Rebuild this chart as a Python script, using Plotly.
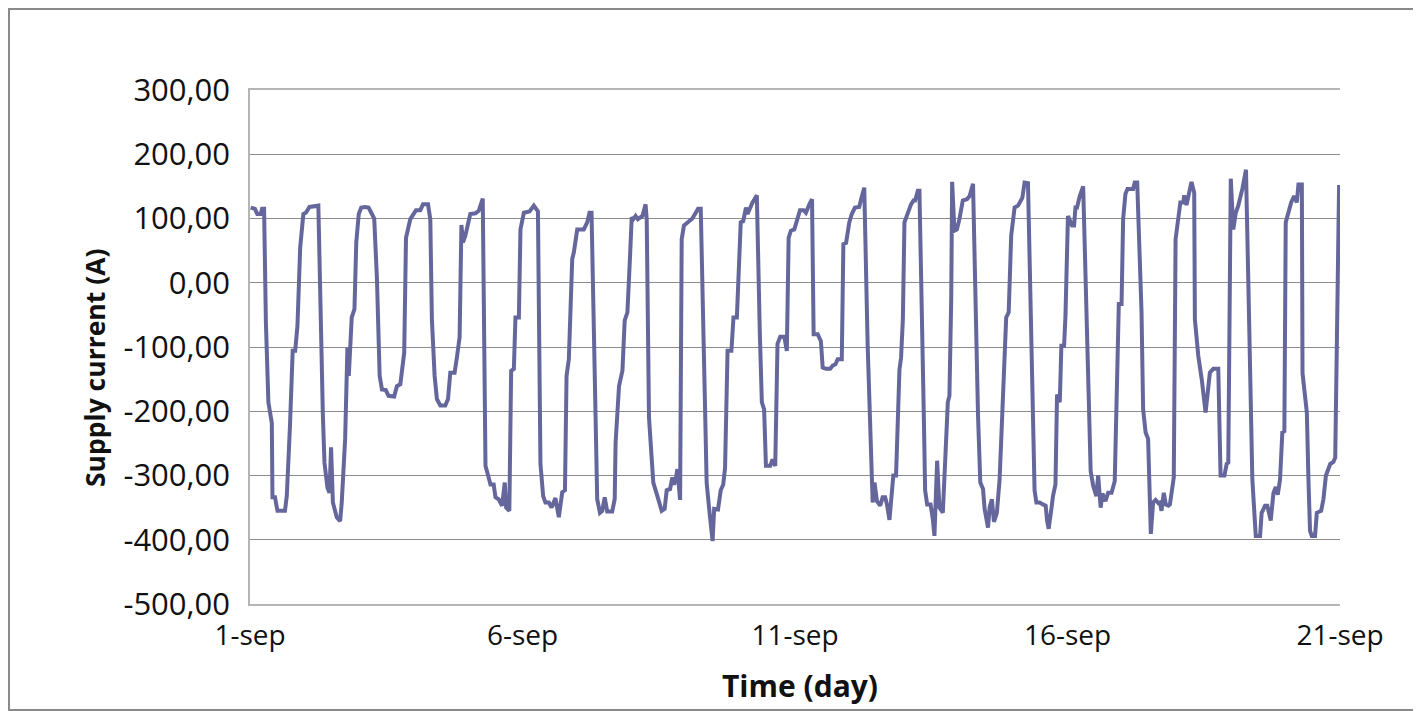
import pandas as pd
import plotly.graph_objects as go

# Hours since 1-sep 00:00 and supply current (A)
hours = [
    0.3, 2.2, 3.2, 4.7, 5.3, 6.2, 7.0, 8.1, 9.6, 9.9, 11.0, 12.1, 15.4, 16.2, 17.6, 18.8, 19.9, 20.9, 22.1, 23.5,
    24.6, 26.2, 30.1, 31.3, 32.1, 32.8, 34.1, 35.0, 35.7, 36.5, 37.2, 38.2, 39.7, 40.4, 41.9, 42.9, 43.5, 44.8,
    46.0, 46.8, 47.9, 49.0, 50.7, 52.2, 53.4, 54.7, 55.9, 57.1, 58.1, 59.8, 61.0, 63.5, 64.7, 66.2, 67.9, 68.7,
    70.6, 71.6, 73.1, 75.0, 76.2, 78.4, 79.4, 80.1, 81.3, 82.3, 83.8, 86.0, 87.2, 88.2, 90.1, 91.2, 92.3, 93.1,
    93.8, 94.8, 97.0,
    99.3, 100.7, 102.5, 103.7, 105.1, 105.9, 107.3, 108.1, 109.5, 111.0, 112.2, 112.8, 114.2, 115.0, 116.2,
    116.9, 118.4, 119.1, 120.6, 123.1, 125.0, 126.8, 127.9, 129.1, 130.1, 131.6, 132.8, 134.5, 136.0, 137.5,
    138.7, 139.4, 140.4, 141.9, 142.6, 144.1, 147.0, 148.5, 149.5, 150.4, 152.9, 154.1, 155.1, 156.2, 157.3,
    159.5, 160.6, 161.0, 162.5, 164.0, 165.0, 166.2, 167.3, 168.1, 168.8, 169.8, 170.8, 172.8, 174.2, 174.7,
    175.7, 177.6, 179.4, 181.3, 182.6, 183.5, 185.0, 186.0, 186.7, 187.5, 188.2, 189.4, 190.1, 191.1,
    194.8, 196.3, 197.3, 198.5, 200.3, 201.1, 202.2, 203.7, 204.4, 206.1, 207.3, 208.4, 209.2, 210.3, 212.0,
    212.9, 214.4, 215.4, 216.1, 217.2, 218.4, 219.1, 220.1, 221.3, 223.2, 223.8, 224.5, 225.4, 226.4, 227.2,
    229.1, 230.1, 231.3, 232.3, 233.5, 235.3, 236.4, 237.2, 238.2, 239.7, 240.7, 242.2, 243.8, 244.8, 246.3,
    247.5, 248.2, 250.0, 251.4, 252.2, 253.6, 255.5, 256.6, 257.8, 258.8, 260.6, 261.3, 262.5, 263.9, 265.0,
    266.4, 268.3, 269.1, 270.5, 272.0, 273.2, 274.2, 275.0, 276.1, 277.5, 278.6, 279.7, 280.5, 281.6, 282.6,
    283.3, 284.5, 285.3, 286.0, 286.7, 287.5, 288.2,
    289.7, 291.1, 292.2, 292.9, 294.1, 294.8, 296.7, 297.3, 298.2, 299.7, 300.7, 301.4, 302.6, 303.6, 305.1,
    307.3, 308.0, 308.8, 309.2, 310.2, 311.3, 312.4, 313.9, 315.7, 316.9, 318.4, 320.6, 321.6, 322.8, 323.5,
    325.0, 325.7, 326.7, 327.6, 328.9, 330.1, 331.6, 333.0, 334.1, 335.2, 336.7, 338.2, 340.1, 341.1, 342.6,
    344.8, 345.5, 346.3, 347.7, 349.2, 350.4, 351.0, 351.7, 352.9, 353.6, 354.7, 355.4, 356.6, 357.3, 358.5,
    359.1, 360.2, 362.0, 362.9, 363.5, 364.2, 365.4, 366.9, 368.3, 369.8, 370.2, 371.3, 372.7, 373.5, 374.6,
    375.4, 376.7, 377.9, 379.4, 380.8, 381.6, 382.6, 383.8, 384.5,
    385.5, 386.4, 388.9, 389.6, 390.7, 391.4, 392.6, 393.3, 394.4, 395.5, 396.7, 397.7, 398.8, 400.0, 400.7,
    401.4, 402.4, 403.3, 404.4, 405.1, 405.8, 406.8, 407.6, 408.8, 409.7, 411.0, 411.4, 412.4, 413.2, 414.6,
    415.8, 416.1, 417.6, 419.1, 420.8, 421.7, 422.7, 424.2, 426.4, 427.4, 429.1, 430.1, 430.8, 431.9, 433.0,
    434.1, 435.2, 437.0, 438.6, 439.6, 440.4, 441.4, 442.9, 444.8, 445.5, 447.0, 448.0, 449.5, 450.7, 451.7,
    452.6, 453.6, 454.6, 455.5, 456.1, 457.3, 458.5, 459.8, 461.0, 461.7, 463.2, 463.5, 465.4, 466.1, 466.8,
    467.6, 469.0, 469.8, 471.7, 472.7, 473.8, 475.7, 477.1, 477.9, 478.6, 479.6,
]
current = [
    117, 115, 107, 107, 115, 115, -62, -186, -218, -334, -334, -355, -355, -332, -223, -106, -106, -67, 55, 107,
    109, 118, 120, -98, -207, -280, -319, -327, -256, -342, -352, -365, -371, -342, -243, -101, -145, -54,
    -41, 63, 107, 117, 118, 117, 109, 100, 6, -145, -166, -167, -176, -177, -161, -158, -109, 70,
    99, 104, 113, 113, 122, 122, 99, -57, -145, -181, -191, -191, -181, -140, -140, -114, -85, 90,
    63, 73, 107,
    108, 112, 131, -285, -303, -314, -314, -334, -337, -347, -311, -350, -355, -137, -134,
    -54, -54, 83, 109, 111, 120, 111, -282, -332, -342, -342, -350, -335, -365, -326,
    -323, -145, -119, 37, 47, 83, 83, 94, 109, 109, -337, -358, -355, -334, -356,
    -356, -337, -249, -161, -137, -59, -46, 37, 102, 99, 104, 99, 104, 122, 99,
    -210, -311, -332, -355, -352, -323, -321, -303, -314, -306, -290, -338, 68, 89,
    100, 109, 115, 115, -202, -311, -352, -402, -352, -353, -323, -314, -288, -106, -106,
    -54, -54, 63, 94, 96, 117, 107, 115, 125, 136, -5, -77, -186, -197, -285,
    -285, -275, -285, -95, -84, -84, -106, 70, 81, 83, 94, 113, 113, 109, 122,
    130, -80, -80, -91, -132, -134, -134, -129, -127, -119, -119, 60, 62, 94, 107,
    117, 118, 130, 148, -98, -228, -342, -311, -340, -347, -334, -334, -345, -369, -328,
    -300, -300, -202, -135, -117, -57, 94,
    109, 122, 128, 128, 143, 143, -202, -323, -345, -345, -368, -394, -277, -350, -358,
    -186, -176, -24, 157, 81, 83, 99, 128, 130, 135, 154, -207, -311, -321, -352,
    -381, -350, -337, -372, -358, -306, -176, -54, -46, 73, 117, 120, 132, 156, 155,
    -202, -323, -342, -342, -345, -347, -370, -383, -352, -332, -314, -174, -186, -98, -98,
    -52, 104, 89, 89, 117, 117, 135, 150, -62, -277, -293, -316, -332, -300, -350,
    -328, -340, -327, -327, -309, -150, -33, -33, 99,
    138, 146, 146, 156, 156, 78, -46, -197, -233, -243, -391, -342, -338, -343, -342,
    -355, -327, -345, -347, -345, -327, -303, 68, 104, 125, 125, 136, 121, 135, 157,
    140, -57, -114, -150, -202, -174, -140, -134, -134, -300, -300, -282, -280, 162, 83,
    109, 120, 146, 176, 6, -150, -306, -394, -394, -358, -347, -347, -370, -327, -318,
    -330, -306, -233, -231, 94, 112, 125, 135, 125, 153, 153, -141, -202, -306, -386,
    -394, -394, -358, -355, -337, -300, -282, -279, -272, -98, 152,
]

start_date = "2013-09-01"
x_tick_days = [0, 5, 10, 15, 20]
x_tick_labels = ["1-sep", "6-sep", "11-sep", "16-sep", "21-sep"]
y_ticks = [300, 200, 100, 0, -100, -200, -300, -400, -500]
y_tick_labels = [f"{v:.2f}".replace(".", ",") for v in y_ticks]

base = pd.Timestamp(start_date)
x = [base + pd.Timedelta(hours=h) for h in hours]
x_tickvals = [base + pd.Timedelta(days=d) for d in x_tick_days]

# page has an 8px body margin; lay the figure out so it lands where the reference is
PAGE_OFF = 8
W, H = 1421 - PAGE_OFF, 711 - PAGE_OFF
L, T = 250 - PAGE_OFF, 90 - PAGE_OFF
R, B = W - (1340 - PAGE_OFF), H - (604 - PAGE_OFF)
pw, ph = W - L - R, H - T - B


def px_x(page_x):
    return (page_x - PAGE_OFF - L) / pw


def px_y(page_y):
    return (H - B - (page_y - PAGE_OFF)) / ph


fig = go.Figure()
fig.add_trace(go.Scatter(
    x=x, y=current, mode="lines",
    line=dict(color="#65679c", width=4),
    hoverinfo="skip", showlegend=False,
))

fig.update_layout(
    width=W, height=H,
    margin=dict(l=L, r=R, t=T, b=B),
    paper_bgcolor="white", plot_bgcolor="white",
    font=dict(family="Open Sans, sans-serif", color="#111111"),
    xaxis=dict(
        type="date",
        range=[x_tickvals[0], x_tickvals[-1]],
        tickvals=x_tickvals, ticktext=x_tick_labels,
        showgrid=False, zeroline=False,
        showline=True, linecolor="#b5b5b5", linewidth=1.5, mirror=True,
        ticks="", ticklabelstandoff=6,
        tickfont=dict(size=28, color="#111111"),
    ),
    yaxis=dict(
        range=[-500, 300],
        tickvals=y_ticks, ticktext=y_tick_labels,
        showgrid=True, gridcolor="#8c8c8c", gridwidth=1,
        zeroline=False,
        showline=True, linecolor="#b5b5b5", linewidth=1.5,
        ticks="", ticklabelstandoff=12,
        tickfont=dict(size=31, color="#111111"),
    ),
    annotations=[
        dict(text="<b>Supply current (A)</b>", xref="paper", yref="paper",
             x=px_x(95), y=px_y(368), textangle=-90,
             xanchor="center", yanchor="middle", showarrow=False,
             font=dict(size=26.5, color="#111111")),
        dict(text="<b>Time (day)</b>", xref="paper", yref="paper",
             x=px_x(800), y=px_y(686),
             xanchor="center", yanchor="middle", showarrow=False,
             font=dict(size=30, color="#111111")),
    ],
    shapes=[dict(type="rect", xref="paper", yref="paper",
                 x0=(1 - L) / pw, x1=(W - 1 - L) / pw,
                 y0=(H - B - (H - 1)) / ph, y1=(H - B - 1) / ph,
                 line=dict(color="#8a8a8a", width=2), fillcolor="rgba(0,0,0,0)",
                 layer="below")],
)

fig.write_html("out.html")
